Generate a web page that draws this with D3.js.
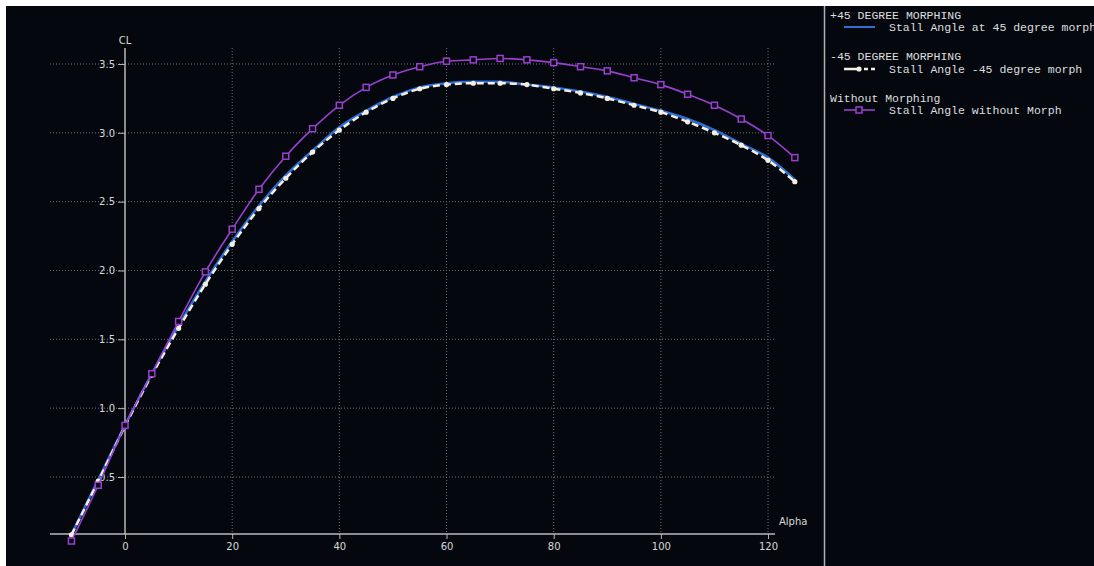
<!DOCTYPE html>
<html><head><meta charset="utf-8">
<script src="https://cdn.jsdelivr.net/npm/d3@7"></script>
<style>
html,body{margin:0;padding:0;background:#fff;}
svg{display:block;}
</style></head>
<body>
<script>
const alpha = [-10,-5,0,5,10,15,20,25,30,35,40,45,50,55,60,65,70,75,80,85,90,95,100,105,110,115,120,125];
const clPlus45 = [0.08,0.48,0.875,1.25,1.60,1.92,2.21,2.47,2.69,2.87,3.04,3.16,3.26,3.33,3.36,3.37,3.37,3.35,3.33,3.30,3.26,3.21,3.16,3.10,3.02,2.92,2.82,2.66];
const clMinus45 = [0.08,0.47,0.87,1.24,1.58,1.90,2.19,2.45,2.67,2.86,3.02,3.15,3.25,3.32,3.35,3.36,3.36,3.35,3.32,3.29,3.25,3.20,3.15,3.08,3.00,2.91,2.80,2.645];
const clNoMorph = [0.035,0.44,0.875,1.25,1.63,1.99,2.30,2.59,2.83,3.03,3.20,3.33,3.42,3.48,3.52,3.53,3.54,3.53,3.51,3.48,3.45,3.40,3.35,3.28,3.20,3.10,2.98,2.82];
const xTicks = [0,20,40,60,80,100,120];
const yTicks = [0.5,1.0,1.5,2.0,2.5,3.0,3.5];
const legendGroups = ["+45 DEGREE MORPHING","-45 DEGREE MORPHING","Without Morphing"];
const legendItems = ["Stall Angle at 45 degree morph","Stall Angle -45 degree morph","Stall Angle without Morph"];

const W = 1094, H = 566;
const svg = d3.select("body").append("svg").attr("width", W).attr("height", H);
svg.append("rect").attr("width", W).attr("height", H).attr("fill", "#ffffff");
svg.append("rect").attr("x", 6).attr("y", 6).attr("width", W-6).attr("height", H-6).attr("fill", "#04080e");

const x = d3.scaleLinear().domain([-14, 121.3]).range([50, 775]);
const y = d3.scaleLinear().domain([0.086, 3.616]).range([534, 48]);

const gridColor = "#707070";
// grid
svg.append("g").selectAll("line").data(yTicks).join("line")
  .attr("x1", 50).attr("x2", 775).attr("y1", d => y(d)).attr("y2", d => y(d))
  .attr("stroke", gridColor).attr("stroke-width", 1).attr("stroke-dasharray", "1,2");
svg.append("g").selectAll("line").data(xTicks.filter(d => d !== 0)).join("line")
  .attr("y1", 48).attr("y2", 534).attr("x1", d => x(d)).attr("x2", d => x(d))
  .attr("stroke", gridColor).attr("stroke-width", 1).attr("stroke-dasharray", "1,2");

// axes
const axisColor = "#b8b8b8";
const xAxis = svg.append("g").attr("transform", `translate(0,${y(0.086)})`)
  .call(d3.axisBottom(x).tickValues(xTicks).tickSize(5).tickPadding(4).tickFormat(d3.format("d")));
const yAxis = svg.append("g").attr("transform", `translate(${x(0)},0)`)
  .call(d3.axisLeft(y).tickValues(yTicks).tickSize(7).tickPadding(3).tickFormat(d3.format(".1f")));
[xAxis, yAxis].forEach(a => {
  a.select(".domain").attr("stroke", axisColor).attr("stroke-width", 1.5);
  a.selectAll(".tick line").attr("stroke", axisColor);
  a.selectAll("text").attr("fill", "#d8d8d8").style("font-family", "DejaVu Sans").style("font-size", "10px");
});
xAxis.select(".domain").attr("d", `M50,0H775`);
yAxis.select(".domain").attr("d", `M0,48V534`);

svg.append("text").attr("x", x(0)).attr("y", 44).attr("text-anchor", "middle")
  .attr("fill", "#d8d8d8").style("font-family", "DejaVu Sans").style("font-size", "10px").text("CL");
svg.append("text").attr("x", 779).attr("y", 525)
  .attr("fill", "#d8d8d8").style("font-family", "DejaVu Sans").style("font-size", "10px").text("Alpha");

// series
const mk = vals => alpha.map((a, i) => [a, vals[i]]);
const line = d3.line().x(d => x(d[0])).y(d => y(d[1])).curve(d3.curveMonotoneX);

const blue = "#2e6fd6", purple = "#9a3fcf", white = "#f4efe2";

svg.append("path").datum(mk(clPlus45)).attr("d", line)
  .attr("fill", "none").attr("stroke", blue).attr("stroke-width", 2.5);

svg.append("path").datum(mk(clMinus45)).attr("d", line)
  .attr("fill", "none").attr("stroke", white).attr("stroke-width", 2.5).attr("stroke-dasharray", "7,4");
svg.append("g").selectAll("circle").data(mk(clMinus45)).join("circle")
  .attr("cx", d => x(d[0])).attr("cy", d => y(d[1])).attr("r", 2.6).attr("fill", white);

svg.append("path").datum(mk(clNoMorph)).attr("d", line)
  .attr("fill", "none").attr("stroke", purple).attr("stroke-width", 1.6);
svg.append("g").selectAll("rect").data(mk(clNoMorph)).join("rect")
  .attr("x", d => x(d[0]) - 3).attr("y", d => y(d[1]) - 3).attr("width", 6).attr("height", 6)
  .attr("fill", "#04080e").attr("stroke", purple).attr("stroke-width", 1.5);

// separator
svg.append("line").attr("x1", 824.5).attr("x2", 824.5).attr("y1", 6).attr("y2", H)
  .attr("stroke", "#b0b0b0").attr("stroke-width", 1.5);

// legend
const lg = svg.append("g").style("font-family", "'Liberation Mono', monospace").style("font-size", "11.5px");
const groupY = [15, 56, 98];
const itemY = [27, 69, 110];
lg.selectAll("text.grp").data(legendGroups).join("text").attr("class", "grp")
  .attr("x", 830).attr("y", (d, i) => groupY[i]).attr("dy", "0.35em").attr("fill", "#dedede").text(d => d);
lg.selectAll("text.itm").data(legendItems).join("text").attr("class", "itm")
  .attr("x", 889).attr("y", (d, i) => itemY[i]).attr("dy", "0.35em").attr("fill", "#dedede").text(d => d);
// symbols
lg.append("line").attr("x1", 844).attr("x2", 875).attr("y1", itemY[0]).attr("y2", itemY[0])
  .attr("stroke", blue).attr("stroke-width", 2);
lg.append("line").attr("x1", 844).attr("x2", 875).attr("y1", itemY[1]).attr("y2", itemY[1])
  .attr("stroke", white).attr("stroke-width", 2.5).attr("stroke-dasharray", "17,3,4,3");
lg.append("circle").attr("cx", 859).attr("cy", itemY[1]).attr("r", 2.6).attr("fill", white);
lg.append("line").attr("x1", 844).attr("x2", 875).attr("y1", itemY[2]).attr("y2", itemY[2])
  .attr("stroke", purple).attr("stroke-width", 1.6);
lg.append("rect").attr("x", 856).attr("y", itemY[2] - 3).attr("width", 6).attr("height", 6)
  .attr("fill", "#04080e").attr("stroke", purple).attr("stroke-width", 1.5);
</script>
</body></html>
